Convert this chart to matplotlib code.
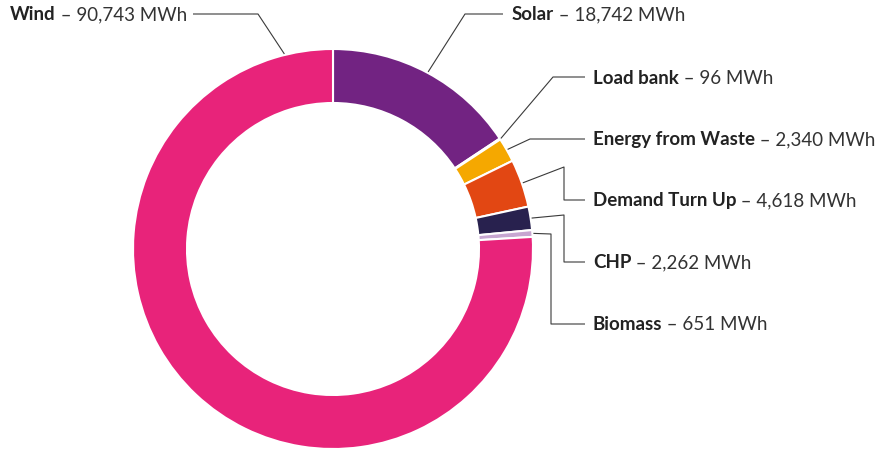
import numpy as np
import matplotlib
matplotlib.use("Agg")
import matplotlib.pyplot as plt

# 데이터
names = ["Solar", "Load bank", "Energy from Waste", "Demand Turn Up", "CHP", "Biomass", "Wind"]
values = [18742, 96, 2340, 4618, 2262, 651, 90743]
colors = ["#722382", "#8c8c8c", "#F5A800", "#E24713", "#28214E", "#C7A6D1", "#E8237A"]

plt.rcParams['font.family'] = ['Lato', 'DejaVu Sans']

W, H = 895, 452
fig = plt.figure(figsize=(W / 100, H / 100), dpi=100)
ax = fig.add_axes([0, 0, 1, 1])
ax.set_xlim(0, W)
ax.set_ylim(0, H)
ax.axis("off")

cx, cy = 333, H - 250
R = 200
wedges, _ = ax.pie(values, colors=colors, startangle=90, counterclock=False,
                   radius=R, center=(cx, cy),
                   wedgeprops=dict(width=54, edgecolor="white", linewidth=1.5))
ax.set_xlim(0, W)
ax.set_ylim(0, H)
ax.set_aspect("auto")

# 라벨 위치 (픽셀, 위에서부터)
# name -> (elbow points, text x, text y)
layout = {
    "Wind": ([(258, 15), (193, 15)], 10, 15),
    "Solar": ([(465, 15), (503, 15)], 512, 15),
    "Load bank": ([(553, 78), (585, 78)], 593, 78),
    "Energy from Waste": ([(530, 140), (585, 140)], 593, 140),
    "Demand Turn Up": ([(564, 168), (564, 201), (585, 201)], 593, 201),
    "CHP": ([(564, 216), (564, 263), (585, 263)], 593, 263),
    "Biomass": ([(551, 235), (551, 325), (585, 325)], 593, 325),
}

fig.canvas.draw()
renderer = fig.canvas.get_renderer()
inv = ax.transData.inverted()

for w, name, val in zip(wedges, names, values):
    if name == "Wind":
        ang = 104
    else:
        ang = (w.theta1 + w.theta2) / 2
    ax_ = cx + (R + 1) * np.cos(np.radians(ang))
    ay_ = cy + (R + 1) * np.sin(np.radians(ang))
    pts, tx, ty = layout[name]
    xs = [ax_] + [p[0] for p in pts]
    ys = [ay_] + [H - p[1] for p in pts]
    ax.plot(xs, ys, color="#3a3a3a", lw=0.8, solid_capstyle="butt")

    t1 = ax.text(tx, H - ty, name, fontsize=13.5, fontweight="bold", color="#222222",
                 ha="left", va="center")
    bb = t1.get_window_extent(renderer)
    x1 = inv.transform((bb.x1, bb.y0))[0]
    ax.text(x1, H - ty, f" – {val:,} MWh", fontsize=13.5, color="#333333",
            ha="left", va="center")

fig.savefig("out.png", dpi=100)
